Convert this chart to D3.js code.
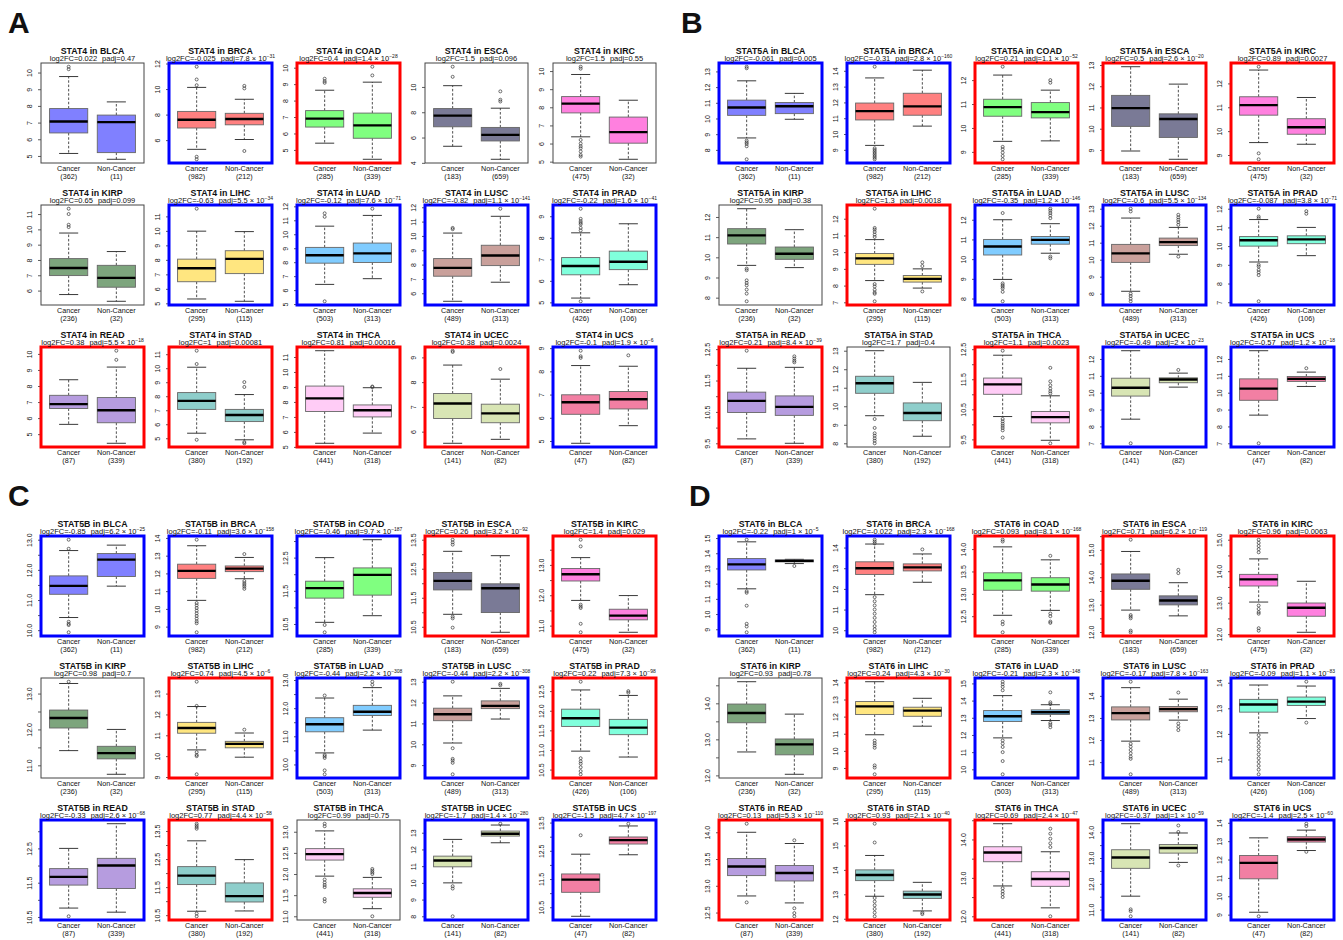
<!DOCTYPE html>
<html><head><meta charset="utf-8">
<script src="https://cdn.jsdelivr.net/npm/d3@7"></script>
<style>
body{margin:0;background:#fff;}
svg text{font-family:"Liberation Sans",Arial,sans-serif;fill:#111;}
</style></head><body>
<svg id="chart" width="1343" height="940"></svg>
<script>
// ---------- data ----------
const genes = ["STAT4","STAT5A","STAT5B","STAT6"];
const panelLetters = ["A","B","C","D"];
const cancers = ["BLCA","BRCA","COAD","ESCA","KIRC","KIRP","LIHC","LUAD","LUSC","PRAD","READ","STAD","THCA","UCEC","UCS"];
const groupNames = ["Cancer","Non-Cancer"];
const nCancer = [362,982,285,183,475,236,295,503,489,426,87,380,441,141,47];
const nNormal = [11,212,339,659,32,32,115,313,313,106,339,192,318,82,82];

const log2fcSTAT4 = [0.022,-0.025,0.4,1.5,1.5,0.65,-0.63,-0.12,-0.82,-0.22,0.38,1,0.81,0.38,-0.1];
const padjSTAT4 = [0.47,7.8e-31,1.4e-28,0.096,0.55,0.099,5.5e-34,7.6e-71,1.1e-141,1.6e-41,5.5e-18,0.00081,0.00016,0.0024,1.9e-6];
const log2fcSTAT5A = [-0.061,-0.31,0.21,0.5,0.89,0.95,1.3,-0.35,-0.6,-0.087,0.21,1.7,1.1,-0.49,-0.57];
const padjSTAT5A = [0.005,2.8e-160,1.1e-52,2.6e-20,0.0027,0.38,0.0018,1.2e-146,5.5e-134,3.8e-71,8.4e-39,0.4,0.0023,2e-23,1.2e-18];
const log2fcSTAT5B = [-0.85,-0.11,-0.46,0.26,1.4,0.98,0.74,-0.44,-0.44,0.22,-0.33,0.77,0.99,-1.7,-1.5];
const padjSTAT5B = [6.2e-25,3.6e-158,9.7e-187,3.2e-92,0.029,0.7,4.5e-6,2.2e-308,2.2e-308,7.3e-98,2.6e-68,4.4e-58,0.75,1.4e-280,4.7e-197];
const log2fcSTAT6 = [-0.22,-0.022,0.093,0.71,0.96,0.93,0.24,-0.21,-0.17,-0.09,0.13,0.93,0.69,-0.37,-1.4];
const padjSTAT6 = [1e-5,2.3e-168,8.1e-168,6.2e-119,0.0063,0.78,4.3e-30,2.3e-148,7.8e-163,1.1e-83,5.3e-110,2.1e-40,2.4e-47,1e-59,2.5e-60];

// box stats: [lower whisker, Q1, median, Q3, upper whisker]
const tumorSTAT4 = [[5.15,6.38,7.07,7.84,9.76],[5.28,6.95,7.6,8.25,10.13],[5.41,6.39,6.9,7.39,8.63],[5.31,6.85,7.73,8.29,10.1],[6.37,7.69,8.2,8.59,9.81],[5.74,6.98,7.48,8.09,9.76],[5.3,6.49,7.42,8.05,9.98],[6.41,7.93,8.5,9.06,10.58],[5.44,7.19,7.77,8.42,10.2],[5.2,6.28,6.69,7.08,8.23],[5.61,6.6,6.87,7.42,8.39],[5.36,7.06,7.67,8.26,10.07],[5.24,7.36,8.24,9.06,11.42],[5.53,6.53,7.14,7.54,8.69],[4.9,6.15,6.67,6.99,8.25]];
const tumorOutSTAT4 = [[10.2,10.35],[11.75,10.75,10.3,4.7,4.5],[9.33,9.18,9.08],[11.6,10.8],[10.24,10.13,6.2,6.0,5.85,5.74,5.56,5.37,5.28],[11.35,11.0,10.3,10.15],[11.53],[11.5,11.25,5.2],[10.56,10.47],[9.35,8.88,8.77,8.69,8.62,8.46,8.34,5.05],[],[11.25,10.3,4.89],[],[9.27,9.22],[8.89,8.65,8.58]];
const normalSTAT4 = [[4.8,5.2,7.03,7.45,8.24],[6.05,7.2,7.65,8.1,9.2],[4.43,5.71,6.49,7.24,9.12],[4.28,5.73,6.21,6.8,8.32],[5.13,6.02,6.63,7.46,8.39],[5.3,6.22,6.83,7.65,8.55],[5.14,7.05,8.07,8.63,9.95],[6.82,7.98,8.63,9.37,11.35],[6.77,7.93,8.63,9.35,11.37],[5.82,6.52,6.89,7.38,8.65],[4.43,5.71,6.49,7.28,9.18],[4.89,6.19,6.66,7.06,8.12],[5.92,7.0,7.45,7.8,8.95],[5.69,6.36,6.74,7.11,8.12],[5.66,6.38,6.8,7.13,8.22]];
const normalOutSTAT4 = [[],[10.25,10.05,5.15],[10.06,9.53],[9.65,8.99,8.85],[],[],[],[11.83],[11.9],[],[10.2,9.63],[9.01,8.66,4.73,4.64],[8.99,9.03],[8.53],[8.69]];

const tumorSTAT5A = [[8.76,10.2,10.7,11.17,12.4],[9.28,10.89,11.45,11.96,13.55],[9.44,10.49,10.87,11.2,12.21],[8.95,10.11,10.97,11.57,12.92],[9.52,10.67,11.09,11.44,12.56],[9.6,10.66,11.09,11.42,12.41],[8.3,9.27,9.63,9.92,10.75],[8.97,10.21,10.64,11.0,12.0],[8.14,9.84,10.37,10.9,12.45],[9.15,10.0,10.31,10.51,11.42],[9.64,10.48,10.85,11.13,11.89],[9.49,10.7,11.24,11.62,13.0],[10.26,11.0,11.33,11.54,12.3],[8.43,9.8,10.29,10.86,12.49],[8.67,9.55,10.24,10.82,12.49]];
const tumorOutSTAT5A = [[13.3,13.2,8.59,8.48,8.38,8.23,7.4],[14.26,9.1,9.0,8.9,8.8,8.7,8.6,8.5,8.4],[12.56,9.21,9.11,8.97,8.83,8.69],[],[12.7,9.07,8.82],[9.44,9.36,8.86,8.73,8.61,8.4,8.2,7.82],[12.6,11.45,11.35,11.21,11.05,10.91,8.09,7.95,7.75,7.59,7.51,7.06],[12.34,8.77,8.68,8.6,8.51,8.34,7.86],[13.0,12.84,8.0,7.86,7.7,7.55],[12.0,11.58,11.49,9.0,8.91,8.73,8.6,8.45,7.05],[12.45],[9.31,8.83,8.54,8.41,8.27,8.14,8.0],[12.45,10.18,10.1,10.02,9.95,9.88,9.8,9.56],[7.0],[7.0]];
const normalSTAT5A = [[9.95,10.31,10.78,11.02,11.6],[10.5,11.19,11.75,12.58,14.04],[9.46,10.42,10.66,11.06,11.58],[8.56,9.59,10.46,10.7,12.1],[9.45,9.87,10.16,10.52,11.41],[9.49,9.9,10.18,10.51,11.37],[7.85,8.21,8.4,8.6,9.0],[10.3,10.76,10.98,11.15,11.8],[10.32,10.83,11.03,11.27,11.9],[9.49,10.13,10.36,10.55,11.0],[9.5,10.39,10.66,11.01,11.92],[8.38,9.22,9.64,10.18,11.29],[9.47,10.05,10.24,10.43,10.95],[10.33,10.59,10.78,10.88,11.16],[10.37,10.67,10.82,10.96,11.22]];
const normalOutSTAT5A = [[],[],[12.0,11.89],[],[],[],[9.39,9.17,7.65],[12.56,12.46,12.34,12.22,12.08,10.13,10.04],[12.64,12.49,12.35,12.21,12.05,10.18],[11.87,11.73],[12.27,12.2,12.13,12.08],[],[11.88,11.43,11.3,11.19,11.1,11.03,9.37],[11.35],[11.45]];

const tumorSTAT5B = [[10.42,11.19,11.47,11.8,12.64],[10.48,11.72,12.14,12.52,13.56],[10.55,11.28,11.58,11.79,12.5],[10.93,11.77,12.08,12.37,13.1],[11.83,12.47,12.69,12.88,13.24],[11.41,12.04,12.32,12.54,13.28],[10.3,11.1,11.35,11.62,12.38],[10.41,11.16,11.43,11.66,12.36],[10.06,11.13,11.44,11.73,12.32],[10.97,11.6,11.81,12.04,12.53],[10.76,11.43,11.67,11.91,12.5],[10.64,11.59,11.91,12.23,13.15],[11.95,12.33,12.47,12.6,13.02],[10.0,10.96,11.34,11.6,12.6],[10.18,11.03,11.48,11.68,12.38]];
const tumorOutSTAT5B = [[13.0,12.7,10.28,10.21,10.17,9.93],[13.9,10.33,10.2,10.05,9.9,9.75,9.6,9.45,9.3,9.19,8.68],[10.47,10.25],[13.5,13.41,13.33,10.85,10.79,10.47],[13.83,13.61,11.69,11.63,11.58,11.06,10.78],[13.33],[13.57,12.41,10.19,10.06,10.0,9.13],[12.45,10.34,10.29,10.23,9.79,9.65],[13.0,9.81,9.3,9.22,9.11,8.56],[12.74,10.79,10.71,10.65,10.56,10.46,10.38],[10.52],[13.76,13.7,13.64,13.58,10.56,10.46],[13.19,13.13,11.87,11.8,11.74,11.69,11.41,11.35],[9.8,9.66,8.0],[13.05]];
const normalSTAT5B = [[11.46,11.78,12.34,12.54,12.82],[11.7,12.1,12.27,12.42,12.9],[10.75,11.37,11.98,12.19,13.04],[10.31,10.99,11.83,11.98,12.95],[10.78,11.19,11.33,11.54,11.99],[10.75,11.18,11.34,11.53,12.0],[9.95,10.4,10.59,10.71,11.11],[11.22,11.74,11.87,12.1,12.73],[11.21,11.71,11.84,12.08,12.68],[10.82,11.39,11.57,11.78,12.39],[10.64,11.33,12.0,12.21,13.22],[10.65,10.97,11.18,11.65,12.48],[11.18,11.45,11.55,11.65,11.92],[12.4,12.8,12.94,13.1,13.46],[12.36,12.74,12.88,12.99,13.38]];
const normalOutSTAT5B = [[],[13.09,11.57,11.45,11.35,11.25,11.13],[],[],[],[],[11.27],[12.94,12.83],[12.9,12.83],[12.5,12.46],[],[],[12.12,12.08,12.04,12.0,11.0],[13.54],[13.46]];

const tumorSTAT6 = [[11.66,12.9,13.27,13.65,14.75],[11.72,12.7,13.0,13.31,14.17],[12.52,13.08,13.3,13.47,14.05],[12.8,13.56,13.87,14.12,14.94],[13.02,13.53,13.74,13.9,14.39],[12.65,13.46,13.73,13.98,14.6],[10.94,12.12,12.6,12.88,14.04],[11.83,12.78,13.09,13.42,14.29],[11.95,12.91,13.22,13.5,14.37],[12.04,12.85,13.15,13.35,13.91],[12.81,13.19,13.36,13.51,14.0],[12.92,13.56,13.79,14.0,14.59],[12.79,13.42,13.66,13.81,14.41],[11.52,12.6,13.02,13.32,14.33],[9.13,10.95,11.82,12.22,13.18]];
const tumorOutSTAT6 = [[14.89,11.5,11.4,10.55,9.36,9.18,8.8],[14.38,14.29,14.2,11.6,11.4,11.2,11.0,10.8,10.6,10.4,10.2,10.05,9.9],[14.21,14.17,12.38,12.32,12.14],[15.37,12.62,12.56,12.5,12.05,11.99],[15.0,14.9,14.8,14.7,14.6,12.91,12.8,12.7,12.65,12.19,12.11],[],[10.6,10.45,10.32,10.18,9.15,9.02,8.63],[15.1,14.95,14.8,14.6,11.68,11.5,11.3,11.0,10.48,9.71],[14.64,11.83,11.7,11.55,11.4,11.25,11.15,10.45],[11.95,11.8,11.65,11.5,11.35,11.2,11.05,10.9,10.75,10.6,10.42],[14.16,12.69],[15.89,15.12,12.85,12.7,12.55,12.4,12.25,12.1],[12.73,12.65,12.58,12.5],[11.01,10.94,10.74],[8.91]];
const normalSTAT6 = [[13.32,13.43,13.5,13.56,13.6],[12.32,12.87,13.04,13.21,13.69],[12.63,13.06,13.21,13.36,13.76],[12.59,12.99,13.15,13.32,13.8],[12.06,12.57,12.84,12.99,13.68],[12.03,12.57,12.86,13.01,13.7],[11.44,12.02,12.35,12.55,13.07],[12.84,13.19,13.32,13.46,13.76],[12.9,13.28,13.4,13.52,13.85],[12.6,13.11,13.26,13.44,13.87],[12.68,13.09,13.24,13.38,13.79],[12.32,12.83,12.99,13.13,13.49],[12.22,12.78,12.97,13.16,13.68],[12.83,13.19,13.39,13.52,13.97],[12.49,12.95,13.09,13.24,13.6]];
const normalOutSTAT6 = [[13.16],[13.91],[13.85,12.56,12.5,12.38,12.35],[14.27,14.15],[],[],[],[14.48,13.9,13.8,12.7,12.59,12.45],[14.15,12.75,12.6,12.45],[14.04,12.44],[13.85,12.58,12.49,12.43],[12.25,12.19],[14.28,14.15,14.02,13.9,13.8,12.0],[14.26,14.01,12.71],[13.95,13.82,12.42]];

// ---------- styles ----------
const cancerFill = ["#8080FF","#FF8080","#80FF80","#7A7A96","#FF80DF","#7DA57D","#FFE680","#80CCFF","#C9A09B","#80FFDC","#B69CDF","#8ECECB","#FFCCF6","#D8E5B4","#F27FA3"];
const upColor = "#FF0000", downColor = "#0000FF", nsColor = "#444";

const geneTable = [
  {fc: log2fcSTAT4, padj: padjSTAT4, tum: tumorSTAT4, tumOut: tumorOutSTAT4, nor: normalSTAT4, norOut: normalOutSTAT4},
  {fc: log2fcSTAT5A, padj: padjSTAT5A, tum: tumorSTAT5A, tumOut: tumorOutSTAT5A, nor: normalSTAT5A, norOut: normalOutSTAT5A},
  {fc: log2fcSTAT5B, padj: padjSTAT5B, tum: tumorSTAT5B, tumOut: tumorOutSTAT5B, nor: normalSTAT5B, norOut: normalOutSTAT5B},
  {fc: log2fcSTAT6, padj: padjSTAT6, tum: tumorSTAT6, tumOut: tumorOutSTAT6, nor: normalSTAT6, norOut: normalOutSTAT6}
];

// ---------- layout ----------
const panelX = [0, 678, 0, 678];
const panelY = [0, 0, 473, 473];
const letterX = [8, 681, 8, 689];
const letterY = [33, 33, 506, 506];
const frameLeft0 = 41, colStep = 128, frameTop0 = 63, rowStep = 142, FW = 103, FH = 100;
const tickFont = 7;

const svg = d3.select("#chart");

function padjParts(p){
  if (p >= 1e-4) return {main: "padj=" + String(p), sup: null};
  const parts = p.toExponential(1).split("e");
  const mant = String(parseFloat(parts[0]));
  return {main: "padj=" + mant + " \u00d7 10", sup: parts[1].replace("-", "\u2212")};
}

// R-style axis ticks (GEPretty: high.u.bias 0.8, u5.bias 1.7, n = 5)
function rPrettyTicks(lo, up){
  const cell = (up - lo) / 5;
  const U = Math.pow(10, Math.floor(Math.log10(cell)));
  let unit = U; const h = 0.8, h5 = 1.7;
  if (2 * U - cell < h * (cell - unit)) { unit = 2 * U;
    if (5 * U - cell < h5 * (cell - unit)) { unit = 5 * U;
      if (10 * U - cell < h * (cell - unit)) unit = 10 * U; } }
  const ticks = [];
  for (let k = Math.ceil(lo / unit - 1e-9); k * unit <= up + 1e-9; k++) ticks.push(+(k * unit).toFixed(10));
  const dec = Math.max(0, -Math.floor(Math.log10(unit) + 1e-9));
  return {ticks, fmt: d3.format("." + dec + "f")};
}

genes.forEach((gene, gi) => {
  const G = geneTable[gi];
  svg.append("text").attr("x", letterX[gi]).attr("y", letterY[gi])
    .attr("font-size", 30).attr("font-weight", "bold").text(panelLetters[gi]);

  cancers.forEach((can, ci) => {
    const row = Math.floor(ci / 5), col = ci % 5;
    const fx = panelX[gi] + frameLeft0 + col * colStep;
    const fy = panelY[gi] + frameTop0 + row * rowStep;
    const groups = [
      {s: G.tum[ci], out: G.tumOut[ci], name: groupNames[0], n: nCancer[ci]},
      {s: G.nor[ci], out: G.norOut[ci], name: groupNames[1], n: nNormal[ci]}
    ];
    const allVals = groups.flatMap(g => g.s.concat(g.out));
    const lo = d3.min(allVals), hi = d3.max(allVals), pad = 0.04 * (hi - lo);
    const y = d3.scaleLinear().domain([lo - pad, hi + pad]).range([fy + FH, fy]);
    const x = d3.scaleLinear().domain([0.42, 2.58]).range([fx, fx + FW]);
    const g = svg.append("g");

    groups.forEach((grp, k) => {
      const c = k + 1;
      const [wl, q1, md, q3, wh] = grp.s;
      g.append("line").attr("x1", x(c)).attr("x2", x(c)).attr("y1", y(q3)).attr("y2", y(wh))
        .attr("stroke", "#222").attr("stroke-width", 0.8).attr("stroke-dasharray", "2.5,1.8");
      g.append("line").attr("x1", x(c)).attr("x2", x(c)).attr("y1", y(q1)).attr("y2", y(wl))
        .attr("stroke", "#222").attr("stroke-width", 0.8).attr("stroke-dasharray", "2.5,1.8");
      [wl, wh].forEach(v => g.append("line").attr("x1", x(c - 0.2)).attr("x2", x(c + 0.2))
        .attr("y1", y(v)).attr("y2", y(v)).attr("stroke", "#222").attr("stroke-width", 0.9));
      g.append("rect").attr("x", x(c - 0.4)).attr("width", x(c + 0.4) - x(c - 0.4))
        .attr("y", y(q3)).attr("height", Math.max(0.5, y(q1) - y(q3)))
        .attr("fill", cancerFill[ci]).attr("stroke", "#666").attr("stroke-width", 0.9);
      g.append("line").attr("x1", x(c - 0.4)).attr("x2", x(c + 0.4)).attr("y1", y(md)).attr("y2", y(md))
        .attr("stroke", "#000").attr("stroke-width", 2.4);
      g.selectAll(null).data(grp.out).enter().append("circle")
        .attr("cx", x(c)).attr("cy", d => y(d)).attr("r", 1.5)
        .attr("fill", "none").attr("stroke", "#333").attr("stroke-width", 0.7);
      g.append("text").attr("x", x(c)).attr("y", fy + FH + 7.5).attr("text-anchor", "middle")
        .attr("font-size", 7.2).text(grp.name);
      g.append("text").attr("x", x(c)).attr("y", fy + FH + 15.5).attr("text-anchor", "middle")
        .attr("font-size", 7.2).text("(" + grp.n + ")");
    });

    const rt = rPrettyTicks(y.domain()[0], y.domain()[1]);
    const ax = g.append("g").attr("transform", `translate(${fx},0)`)
      .call(d3.axisLeft(y).tickValues(rt.ticks).tickSize(3).tickFormat(rt.fmt));
    ax.select(".domain").remove();
    ax.selectAll(".tick line").attr("stroke", "#333").attr("stroke-width", 0.8);
    ax.selectAll(".tick text").attr("x", null).attr("dy", null)
      .attr("text-anchor", "middle").attr("transform", "translate(-9,0) rotate(-90)")
      .attr("font-size", tickFont).attr("font-family", "Liberation Sans, Arial, sans-serif").attr("fill", "#222");
    const gap = 0.833 * tickFont;
    const tks = ax.selectAll(".tick").nodes()
      .map(n => ({n, v: d3.select(n).datum()})).sort((a, b) => a.v - b.v);
    let lastTop = null;
    tks.forEach(t => {
      const tn = d3.select(t.n).select("text");
      const w = tn.node().getComputedTextLength();
      const cy = y(t.v);
      if (lastTop === null || cy + w / 2 + gap <= lastTop) { lastTop = cy - w / 2; }
      else tn.remove();
    });

    const sig = G.padj[ci] < 0.05;
    const fc = G.fc[ci];
    const col2 = sig ? (fc > 0 ? upColor : downColor) : nsColor;
    g.append("rect").attr("x", fx).attr("y", fy).attr("width", FW).attr("height", FH)
      .attr("fill", "none").attr("stroke", col2).attr("stroke-width", sig ? 3 : 1);

    g.append("text").attr("x", fx + FW / 2).attr("y", fy - 9).attr("text-anchor", "middle")
      .attr("font-size", 8.8).attr("font-weight", "bold").text(gene + " in " + can);
    const pp = padjParts(G.padj[ci]);
    const st = g.append("text").attr("x", fx + FW / 2).attr("y", fy - 2).attr("text-anchor", "middle")
      .attr("font-size", 7.5);
    st.append("tspan").text("log2FC=" + String(fc));
    st.append("tspan").attr("dx", 5).text(pp.main);
    if (pp.sup) st.append("tspan").attr("dy", -3).attr("font-size", 5).text(pp.sup);
  });
});
</script>
</body></html>
